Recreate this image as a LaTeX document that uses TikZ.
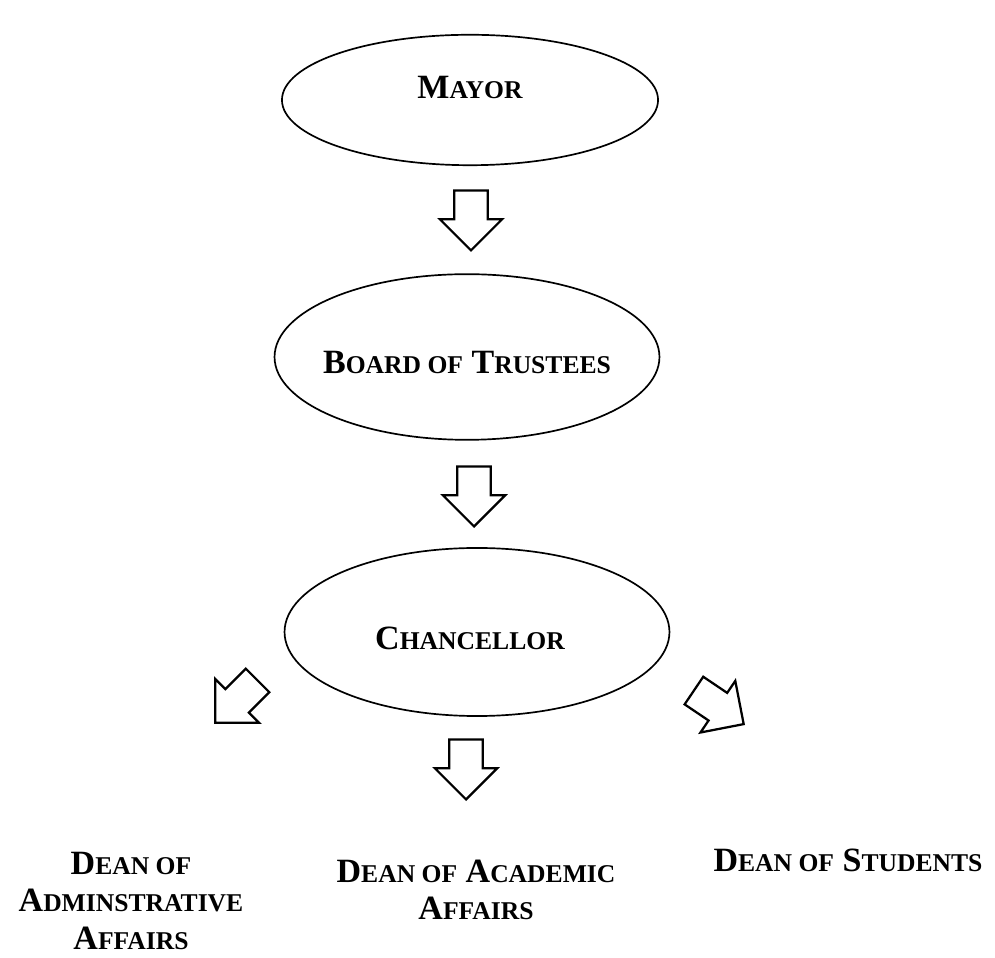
\documentclass[tikz,border=0pt]{standalone}
\usepackage{fontspec}
\setmainfont{Liberation Serif}
\usetikzlibrary{shapes.geometric,shapes.arrows}

\newcommand{\smc}[1]{{\fontsize{9.1}{13.2}\selectfont #1}}

\begin{document}
\begin{tikzpicture}[x=0.0125cm,y=-0.0125cm]

	%\draw[help lines] (0,0) grid (995,958);
	\useasboundingbox (0,0) rectangle (995,958);

	\tikzset{office/.style={draw,ellipse,line width=0.6pt,inner sep=0pt}}
	\tikzset{title/.style={inner sep=0pt,font=\fontsize{12.1}{13.2}\selectfont\bfseries}}
	\tikzset{blk/.style={draw,single arrow,anchor=tip,line width=0.8pt,inner xsep=0pt,inner ysep=0.194cm,minimum height=0.75cm,single arrow head extend=0.181cm,single arrow head indent=0pt}}
	\tikzset{dean/.style={align=center,anchor=north,inner sep=0pt,font=\fontsize{12.1}{13.2}\selectfont\bfseries}}

	% offices
	\node[office,minimum width=4.7cm,minimum height=1.63cm] (mayor) at (470,100) {};
	\node[title] (mayorname) at (470,87) {M\smc{AYOR}};

	\node[office,minimum width=4.81cm,minimum height=2.07cm] (board) at (467,357) {};
	\node[title] (boardname) at (467,362) {B\smc{OARD OF} T\smc{RUSTEES}};

	\node[office,minimum width=4.81cm,minimum height=2.1cm] (chanc) at (477,632) {};
	\node[title] (chancname) at (470,638) {C\smc{HANCELLOR}};

	% block arrows (placed by their tips)
	\node[blk,rotate=-90] (down1) at (471,252) {};
	\node[blk,rotate=-90] (down2) at (474,528) {};
	\node[blk,rotate=-90] (down3) at (466,801) {};
	\node[blk,rotate=-135] (left) at (214,724) {};
	\node[blk,rotate=-34] (right) at (745,725) {};

	% deans
	\node[dean] (admin) at (131,852) {D\smc{EAN OF}\\A\smc{DMINSTRATIVE}\\A\smc{FFAIRS}};
	\node[dean] (acad) at (476,859) {D\smc{EAN OF} A\smc{CADEMIC}\\A\smc{FFAIRS}};
	\node[dean] (stud) at (848,848) {D\smc{EAN OF} S\smc{TUDENTS}};

\end{tikzpicture}
\end{document}
